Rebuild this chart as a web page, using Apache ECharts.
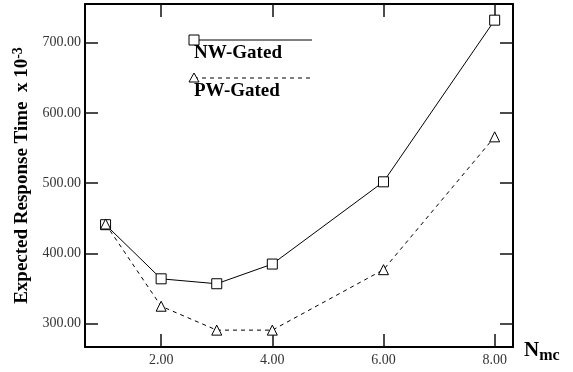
<!DOCTYPE html>
<html>
<head>
<meta charset="utf-8">
<script src="https://cdn.jsdelivr.net/npm/echarts@6/dist/echarts.min.js"></script>
<style>
  html, body { margin: 0; padding: 0; background: #fff; }
  #chart { width: 573px; height: 372px; }
</style>
</head>
<body>
<div id="chart"></div>
<script>
// Number of memory controllers (N_mc) vs. expected response time
const nmc = [1, 2, 3, 4, 6, 8];
const nwGated = [441, 364, 357, 385, 502, 732];
const pwGated = [442, 325, 291, 291, 377, 566];
const xTicks = [2, 4, 6, 8];
const yTicks = [300, 400, 500, 600, 700];
const seriesNames = ['NW-Gated', 'PW-Gated'];

const serif = '"Liberation Serif", "Times New Roman", serif';
const chart = echarts.init(document.getElementById('chart'), null, { renderer: 'canvas' });

const X_MIN = 0.63, X_MAX = 8.33, Y_MIN = 267, Y_MAX = 755;
const fmt = v => v.toFixed(2);

// Framed value axis with inward ticks at the given values
function axisDef(pos, labels, min, max, ticks, margin) {
  return {
    type: 'value', position: pos, min: min, max: max,
    axisLine: { show: true, onZero: false, lineStyle: { color: '#000', width: 2 } },
    axisTick: { show: true, inside: true, length: 13, customValues: ticks,
      lineStyle: { color: '#111', width: 1.5 } },
    axisLabel: { show: labels, customValues: ticks, formatter: fmt, margin: margin,
      fontFamily: serif, fontSize: 14, color: '#333' },
    splitLine: { show: false }
  };
}

const yLeft = Object.assign(axisDef('left', true, Y_MIN, Y_MAX, yTicks, 4), {
  name: 'Expected Response Time  x 10{sup|-3}',
  nameLocation: 'middle', nameGap: 52, nameRotate: 90,
  nameTextStyle: {
    fontFamily: serif, fontSize: 19, fontWeight: 'bold', color: '#000',
    rich: { sup: { fontFamily: serif, fontSize: 14, fontWeight: 'bold', verticalAlign: 'top', padding: [0, 0, 8, 0] } }
  }
});

const keyGraphics = [
  // key: NW-Gated
  { type: 'line', shape: { x1: 194, y1: 40, x2: 312, y2: 40 }, style: { stroke: '#000', lineWidth: 1 } },
  { type: 'rect', shape: { x: 189, y: 35, width: 10, height: 10 }, style: { fill: '#fff', stroke: '#000', lineWidth: 1 } },
  { type: 'text', left: 194, top: 44, style: { text: seriesNames[0], font: 'bold 19px ' + serif, fill: '#000' } },
  // key: PW-Gated
  { type: 'line', shape: { x1: 194, y1: 78, x2: 312, y2: 78 }, style: { stroke: '#000', lineWidth: 1, lineDash: [4, 4] } },
  { type: 'polygon', shape: { points: [[194, 73], [199, 82], [189, 82]] }, style: { fill: '#fff', stroke: '#000', lineWidth: 1 } },
  { type: 'text', left: 194, top: 82, style: { text: seriesNames[1], font: 'bold 19px ' + serif, fill: '#000' } },
  // x-axis title
  { type: 'text', left: 524, top: 340, style: {
      text: 'N{sub|mc}', font: 'bold 21px ' + serif, fill: '#000',
      rich: { sub: { font: 'bold 16px ' + serif, fill: '#000', padding: [10, 0, 0, 0] } }
    } }
];

chart.setOption({
  animation: false,
  backgroundColor: '#fff',
  grid: { left: 85, right: 60, top: 4, bottom: 25 },
  xAxis: [
    axisDef('bottom', true, X_MIN, X_MAX, xTicks, 6),
    axisDef('top', false, X_MIN, X_MAX, xTicks, 6)
  ],
  yAxis: [
    yLeft,
    axisDef('right', false, Y_MIN, Y_MAX, yTicks, 4)
  ],
  series: [
    {
      name: seriesNames[0], type: 'line', xAxisIndex: 0, yAxisIndex: 0,
      data: nmc.map((x, i) => [x, nwGated[i]]),
      symbol: 'rect', symbolSize: 10, showAllSymbol: true,
      lineStyle: { color: '#000', width: 1 },
      itemStyle: { color: '#fff', borderColor: '#000', borderWidth: 1 }
    },
    {
      name: seriesNames[1], type: 'line', xAxisIndex: 0, yAxisIndex: 0,
      data: nmc.map((x, i) => [x, pwGated[i]]),
      symbol: 'triangle', symbolSize: 10, showAllSymbol: true,
      lineStyle: { color: '#000', width: 1, type: [4, 4] },
      itemStyle: { color: '#fff', borderColor: '#000', borderWidth: 1 }
    }
  ],
  graphic: { elements: keyGraphics }
});
</script>
</body>
</html>
